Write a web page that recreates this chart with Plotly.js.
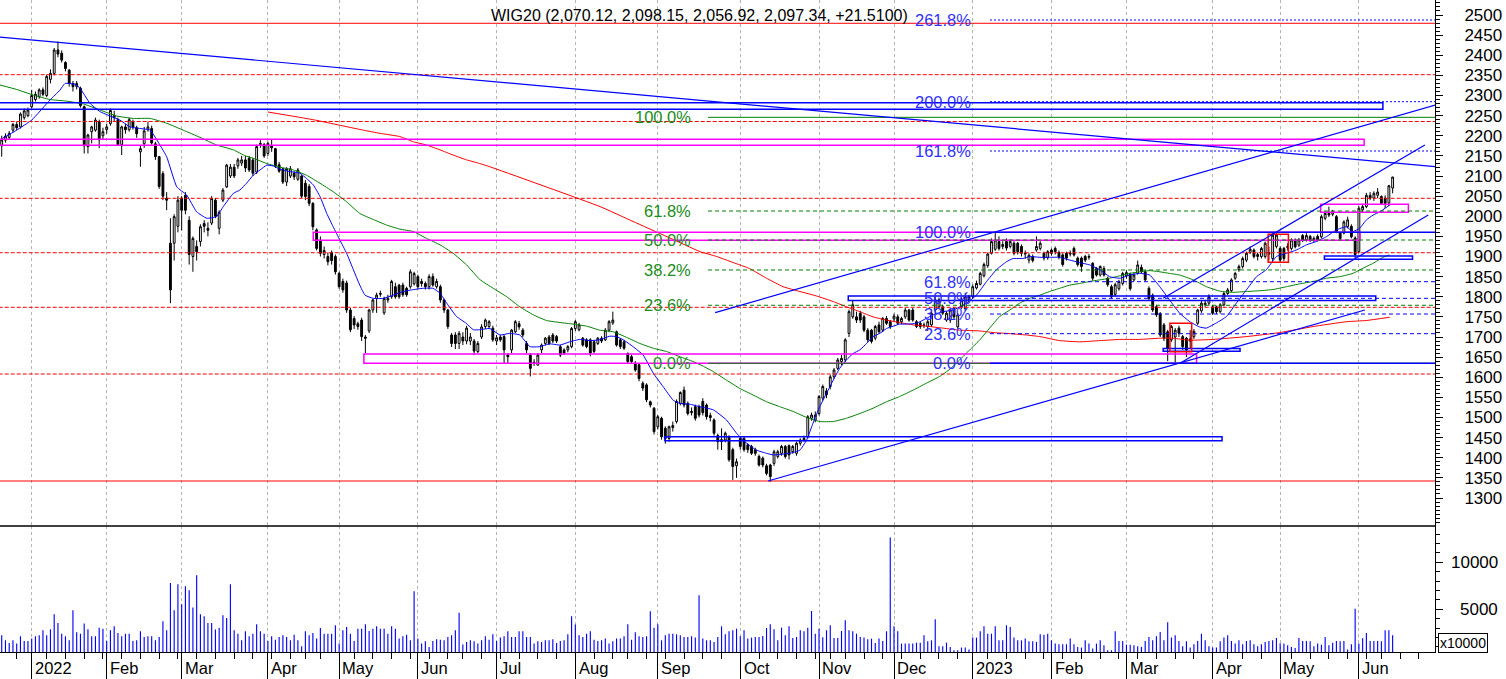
<!DOCTYPE html>
<html><head><meta charset="utf-8">
<script src="https://cdn.plot.ly/plotly-3.0.1.min.js"></script>
<style>html,body{margin:0;padding:0;background:#fff;overflow:hidden}#chart{width:1506px;height:679px}</style>
</head><body><div id="chart"></div>
<script>
const FONT = 'Liberation Sans, Arial, sans-serif';
// ---- trading calendar (categories) ----
const firstDay = '2021-12-20';
const holidays = ['2021-12-24','2021-12-31','2022-01-06','2022-04-15','2022-04-18','2022-05-03','2022-06-16','2022-08-15','2022-11-01','2022-11-11','2022-12-26','2023-01-06','2023-04-07','2023-04-10','2023-05-01','2023-05-03','2023-06-08'];
const monthLabels = ['2022','Feb','Mar','Apr','May','Jun','Jul','Aug','Sep','Oct','Nov','Dec','2023','Feb','Mar','Apr','May','Jun'];
const priceTicks = [1300,1350,1400,1450,1500,1550,1600,1650,1700,1750,1800,1850,1900,1950,2000,2050,2100,2150,2200,2250,2300,2350,2400,2450,2500];
const volTicks = [5000,10000];
const volTickText = ['5000','10000'];
const seriesName = 'WIG20';

// ---- daily OHLC (Dec 2021 .. Jun 2023) ----
const opens = [
2175,2189,2196,2214,2228,2222,2245,2250,
2272,2290,2297,2314,2300,2340,2355,2413,2405,2382,2363,2330,2322,2318,2272,2173,2210,2214,2235,2200,
2215,2230,2245,2240,2178,2222,2215,2235,2220,2160,2180,2215,2218,2180,2148,2106,2045,1933,1933,1975,
2045,2052,1990,1900,1925,1937,1982,1970,1983,2040,1970,2040,2073,2100,2122,2125,2132,2140,2144,2140,2110,2178,2178,
2156,2175,2168,2128,2118,2085,2100,2107,2092,2100,2082,2074,2032,1966,1941,1905,1900,1910,1900,
1858,1838,1834,1767,1746,1733,1742,1700,1715,1767,1796,1806,1760,1792,1800,1825,1829,1829,1821,1825,1832,
1850,1838,1833,1825,1850,1825,1825,1792,1767,1705,1705,1684,1700,1690,1690,1690,1664,1700,1726,1726,1722,
1690,1700,1701,1655,1668,1713,1733,1717,1684,1655,1635,1630,1668,1684,1700,1705,1701,1676,1668,1668,1676,
1721,1718,1697,1693,1693,1688,1684,1697,1693,1717,1735,1713,1693,1688,1659,1651,1635,1631,1585,1581,1539,1523,
1477,1498,1473,1448,1475,1490,1535,1568,1535,1512,1527,1527,1540,1531,1505,1494,1455,1440,1444,1452,1420,1380,
1448,1448,1432,1428,1420,1403,1399,1380,1382,1386,1403,1411,1428,1430,1415,1411,1436,1444,1452,1498,1494,
1510,1548,1566,1577,1601,1622,1639,1643,1709,1750,1750,1759,1750,1717,1717,1697,1730,1717,1746,1738,
1745,1750,1738,1750,1767,1767,1738,1734,1730,1726,1730,1767,1775,1775,1742,1742,1770,1725,1775,1770,1800,
1800,1822,1831,1852,1877,1908,1918,1937,1925,1937,1925,1933,1933,1925,1906,1891,1900,1916,1920,1908,1897,
1916,1920,1910,1904,1908,1906,1920,1896,1896,1900,1898,1883,1870,1854,1870,1846,1825,1806,1820,1833,
1852,1856,1842,1858,1873,1862,1821,1804,1775,1758,1730,1713,1693,1700,1722,1701,1697,1690,1701,1734,1765,1780,1784,
1775,1775,1763,1780,1808,1815,1846,1867,1875,1891,1910,1916,1900,1900,1900,1906,1895,1925,
1920,1920,1922,1920,1941,1928,1952,1941,1950,1941,1950,1949,1995,2007,2005,1999,1958,1958,1974,1975,1946,
1912,2016,2024,2052,2045,2052,2049,2045,2033,2070.12];
const highs = [
2200,2206,2212,2232,2235,2258,2268,2270,
2314,2310,2318,2320,2352,2365,2418,2434,2412,2385,2366,2336,2336,2322,2275,2205,2225,2245,2240,2220,
2230,2268,2262,2245,2225,2230,2245,2240,2225,2175,2222,2235,2225,2185,2150,2112,2060,1995,2005,2050,
2050,2060,2000,1950,1940,1980,1990,1985,2050,2045,2015,2070,2130,2130,2130,2145,2150,2150,2150,2145,2178,2189,2182,
2186,2190,2170,2135,2120,2122,2125,2112,2120,2102,2090,2080,2035,1970,1950,1925,1910,1915,1905,
1862,1845,1840,1772,1752,1738,1748,1705,1770,1795,1810,1815,1800,1805,1842,1835,1832,1835,1825,1868,1862,
1855,1845,1838,1856,1858,1845,1830,1795,1770,1710,1712,1715,1712,1728,1710,1695,1690,1732,1746,1742,1728,
1705,1705,1705,1660,1720,1742,1740,1722,1690,1660,1645,1660,1684,1700,1705,1710,1705,1680,1672,1680,1725,
1742,1735,1700,1697,1697,1692,1700,1702,1722,1742,1763,1716,1697,1692,1662,1656,1640,1635,1590,1585,1542,1526,
1506,1502,1478,1480,1490,1545,1565,1577,1540,1525,1532,1532,1548,1535,1512,1498,1460,1473,1465,1456,1425,1398,
1452,1452,1436,1432,1425,1408,1403,1385,1385,1420,1420,1432,1432,1433,1432,1440,1448,1455,1506,1512,1515,
1556,1582,1573,1606,1623,1648,1655,1697,1768,1792,1763,1765,1755,1722,1720,1730,1738,1750,1752,1742,
1758,1756,1750,1772,1770,1772,1742,1738,1736,1742,1762,1800,1798,1780,1764,1770,1775,1760,1798,1810,1805,
1830,1840,1862,1885,1910,1945,1961,1950,1938,1945,1942,1938,1936,1930,1915,1908,1905,1950,1938,1912,1916,
1920,1925,1915,1908,1912,1915,1925,1900,1900,1904,1906,1886,1874,1878,1876,1850,1830,1835,1842,1862,
1866,1860,1860,1890,1880,1866,1826,1808,1780,1762,1735,1718,1730,1722,1728,1705,1700,1717,1720,1770,1790,1792,1806,
1780,1778,1784,1812,1822,1846,1862,1880,1900,1912,1925,1920,1910,1924,1937,1925,1958,1958,
1925,1924,1933,1945,1945,1946,1956,1958,1954,1950,1955,2004,2012,2024,2016,2003,1962,1990,1999,1980,1950,
2025,2030,2058,2060,2062,2070,2052,2052,2078,2098.15];
const lows = [
2148,2183,2190,2208,2214,2218,2240,2246,
2268,2285,2292,2298,2296,2330,2350,2395,2382,2360,2322,2310,2315,2270,2156,2156,2181,2210,2169,2190,
2205,2225,2235,2175,2152,2205,2210,2215,2195,2123,2170,2210,2178,2140,2068,2040,2015,1784,1890,1960,
1965,2005,1880,1862,1890,1925,1960,1950,1978,1995,1955,2035,2070,2095,2095,2118,2125,2110,2110,2100,2105,2170,2145,
2150,2160,2120,2108,2080,2075,2095,2090,2088,2045,2040,2025,1965,1915,1900,1895,1878,1880,1855,
1820,1810,1760,1712,1720,1718,1690,1660,1710,1760,1760,1800,1755,1785,1795,1795,1795,1800,1800,1820,1828,
1820,1825,1818,1818,1825,1820,1785,1760,1720,1675,1670,1670,1680,1682,1680,1655,1660,1695,1720,1720,1688,
1680,1688,1635,1635,1660,1710,1718,1700,1660,1602,1628,1630,1660,1680,1680,1685,1685,1650,1655,1662,1672,
1715,1714,1676,1672,1652,1660,1680,1685,1690,1712,1730,1676,1670,1668,1635,1634,1614,1590,1566,1538,1525,1458,
1470,1445,1435,1440,1465,1485,1530,1525,1505,1505,1492,1500,1505,1495,1490,1455,1420,1419,1438,1390,1345,1350,
1420,1415,1412,1407,1405,1378,1376,1356,1340,1380,1398,1405,1398,1396,1410,1405,1430,1440,1448,1492,1488,
1505,1542,1548,1570,1596,1618,1630,1638,1700,1745,1735,1735,1712,1688,1684,1692,1708,1712,1730,1720,
1738,1730,1732,1745,1738,1738,1722,1720,1722,1715,1725,1755,1770,1755,1738,1735,1745,1720,1770,1765,1785,
1795,1818,1828,1848,1872,1905,1914,1915,1918,1915,1920,1903,1905,1900,1895,1883,1885,1912,1915,1890,1892,
1902,1905,1893,1875,1890,1900,1900,1875,1862,1886,1892,1840,1850,1850,1850,1825,1795,1800,1815,1828,
1845,1815,1838,1855,1858,1838,1790,1762,1750,1700,1690,1640,1688,1636,1700,1668,1650,1672,1695,1730,1760,1775,1778,
1755,1757,1758,1776,1804,1812,1842,1862,1870,1886,1906,1895,1890,1895,1895,1890,1888,1920,
1885,1888,1915,1915,1920,1924,1936,1937,1936,1936,1938,1945,1990,1998,2000,1958,1940,1955,1970,1945,1895,
1908,2010,2020,2040,2038,2045,2030,2020,2025,2056.92];
const closes = [
2190,2199,2206,2228,2220,2254,2262,2264,
2300,2303,2314,2303,2347,2355,2413,2403,2388,2367,2330,2322,2330,2275,2175,2202,2222,2239,2190,2210,
2222,2263,2250,2178,2222,2215,2240,2222,2205,2168,2212,2222,2182,2148,2074,2050,2040,1817,1999,2040,
2015,2015,1905,1945,1912,1974,1975,1965,2044,2000,2010,2065,2127,2122,2100,2140,2140,2120,2115,2107,2173,2181,2150,
2181,2170,2125,2112,2085,2118,2118,2098,2115,2050,2049,2032,1974,1920,1908,1915,1887,1890,1862,
1825,1817,1767,1718,1730,1726,1701,1697,1767,1792,1804,1808,1796,1796,1838,1800,1800,1805,1805,1862,1858,
1825,1833,1825,1850,1829,1838,1792,1767,1726,1684,1684,1709,1690,1722,1700,1665,1684,1725,1742,1738,1693,
1698,1693,1668,1651,1717,1738,1725,1705,1668,1622,1637,1655,1680,1697,1684,1690,1690,1655,1660,1676,1721,
1738,1730,1680,1676,1660,1664,1697,1690,1717,1738,1742,1680,1676,1672,1639,1639,1618,1597,1573,1544,1531,1465,
1502,1452,1448,1477,1480,1540,1562,1531,1510,1515,1498,1506,1512,1502,1500,1461,1440,1445,1461,1395,1378,1390,
1428,1420,1420,1411,1411,1382,1382,1361,1353,1415,1415,1428,1403,1407,1428,1436,1444,1448,1502,1506,1506,
1552,1577,1557,1601,1618,1643,1647,1693,1763,1780,1742,1742,1717,1693,1689,1726,1713,1746,1734,1726,
1752,1734,1746,1767,1742,1742,1726,1726,1729,1738,1759,1792,1792,1759,1759,1767,1750,1755,1792,1800,1792,
1825,1833,1858,1880,1906,1937,1941,1920,1930,1921,1937,1908,1912,1908,1908,1903,1890,1925,1933,1896,1912,
1908,1912,1898,1880,1896,1908,1904,1880,1875,1891,1900,1846,1854,1875,1854,1830,1800,1830,1838,1858,
1860,1820,1854,1879,1862,1842,1796,1767,1755,1705,1697,1672,1726,1717,1709,1676,1668,1695,1714,1767,1784,1784,1800,
1759,1763,1780,1808,1817,1842,1858,1875,1895,1908,1918,1900,1905,1920,1933,1910,1953,1953,
1891,1895,1925,1941,1924,1941,1941,1952,1941,1945,1941,1999,2007,2003,2011,1962,1945,1986,1991,1949,1905,
2020,2024,2052,2045,2057,2060,2032,2032,2075.83,2097.34];
// volume, units of 10000
const volumes = [
2230,1700,1420,1700,1350,2130,1630,1630,1880,2130,2230,2770,2230,2870,4470,3550,2410,2130,1700,4890,
2550,2410,3480,2870,2130,2130,3050,2940,1630,2770,3190,2480,2130,2410,2410,1630,1700,2660,2060,2130,
2130,1700,2060,3730,2770,7800,4890,7660,5530,7450,7020,5180,8620,4470,4260,3550,3550,2840,3050,4360,
4080,7660,2770,2410,1700,2660,2130,2410,3410,2660,2410,1630,2130,1770,2060,2230,2060,1700,2300,1700,
1070,2660,2230,2480,1880,3020,2410,2410,2410,3300,1350,2770,3120,2410,1630,2940,2940,3410,2700,2940,
3190,2940,2940,2410,3190,2940,1880,2130,2300,1700,6920,1880,1350,1600,1000,1630,1810,1770,1700,2060,
2230,2770,4640,1250,1530,1700,1600,1350,1700,2130,1770,2340,1630,1990,2130,2660,2060,2060,2660,2660,
2060,2060,1350,1600,1530,1700,1700,1810,1420,1630,1700,2340,4260,3370,2230,2060,2410,2660,1770,1630,
1700,1880,1350,1600,1880,1880,2130,3410,1770,2550,2130,2060,2130,4790,3050,3410,1700,2230,2410,2410,
2340,2230,2060,2060,2130,1990,6490,1880,1700,1700,1530,2060,3190,2340,2660,2770,2940,2130,2770,1880,
1990,2060,2060,2160,3020,3410,2870,1700,3050,2230,3190,1950,2060,2770,2660,3050,4820,2410,2940,2020,
2770,3300,1950,1950,2700,3830,2770,2660,2410,2060,1990,1810,1880,1420,1880,1630,2660,12630,3190,2660,
1350,1350,1350,1350,1450,1450,2230,1600,1700,3940,1070,1070,1450,1000,640,640,930,930,720,1990,
1990,2660,3190,2410,2410,3190,1700,1700,3300,3120,1990,1700,1700,1880,1600,1600,1530,2340,2300,2410,
1700,1350,1280,1280,1280,1880,1280,1000,930,1700,1350,820,1350,1700,1170,640,640,2660,1630,1630,
1240,1240,1170,1070,1000,1630,2060,1700,2130,2590,1700,3620,1990,2230,1630,1070,1600,930,1280,1630,
2410,1700,1070,930,930,1600,1990,2230,1630,1350,1700,1280,1630,1700,1280,1070,1280,1530,1630,1700,
1950,1400,1350,1170,1000,890,1950,1630,1630,1600,1070,1350,1240,2060,1170,1450,1630,1600,1630,720,
1280,5070,1350,1920,2480,1630,1630,1630,1600,2770,2770,2230];

// ---- moving averages: [dayIndex, value] ----
const maBlue = [[-8.46,2190],[-4,2214],[0,2239],[4.9,2289],[7.5,2313],[8.9,2330],[11.5,2328],[12.9,2318],[15.5,2281],[18.2,2260],[20.9,2249],[23.5,2239],[26.2,2222],[28.9,2218],[31.6,2214],[34.2,2177],[36,2148],[38.7,2073],[41.3,2053],[44,2011],[46.7,1995],[49.3,1999],[51.1,2024],[53.8,2057],[55.5,2065],[57.3,2082],[59.1,2102],[60.9,2115],[62.7,2127],[64.4,2125],[66.2,2117],[68.9,2111],[71.5,2107],[73.3,2094],[75.1,2078],[76.9,2049],[78.7,2007],[80.4,1974],[82.2,1941],[84,1908],[85.8,1867],[87.5,1829],[88.9,1804],[91.1,1796],[93.8,1796],[96.4,1804],[99.1,1813],[101.3,1817],[104.4,1821],[107,1821],[108.9,1809],[110.7,1784],[113.3,1751],[115.9,1734],[117.8,1718],[119.5,1718],[122.2,1721],[124.9,1705],[127.5,1709],[130.2,1705],[132.9,1676],[135.5,1676],[138.2,1683],[140.9,1680],[143.5,1688],[146.2,1694],[148.9,1691],[151.5,1693],[154.2,1702],[156,1701],[157.8,1693],[160.4,1676],[163.1,1655],[165.8,1610],[168.4,1577],[171.1,1543],[172.9,1535],[175.5,1533],[178.2,1527],[181.8,1519],[185.3,1494],[188,1461],[190.7,1436],[193.3,1419],[196,1411],[197.8,1407],[200.4,1409],[203.1,1413],[204.9,1419],[206.7,1444],[208.4,1486],[210.2,1527],[212,1560],[213.8,1593],[215.5,1622],[217.3,1643],[219.1,1659],[220.9,1668],[222.7,1684],[224.4,1701],[226.2,1709],[228,1721],[229.8,1727],[231.5,1732],[233.3,1732],[236,1734],[238.6,1746],[240.4,1755],[243.1,1763],[245.8,1767],[249.3,1784],[252,1804],[254.7,1838],[257.3,1867],[260,1887],[261.8,1895],[264.4,1895],[266.2,1900],[268.9,1898],[271.5,1898],[274.2,1898],[276.9,1891],[279.5,1885],[282.2,1879],[284.9,1867],[287.5,1850],[290.2,1846],[292.9,1854],[295.5,1858],[298.2,1854],[300.9,1825],[303.5,1792],[306.2,1759],[308.9,1738],[311.5,1725],[313.3,1722],[316,1735],[318.7,1751],[321.3,1784],[324,1817],[326.7,1850],[329.3,1867],[332,1900],[334.7,1908],[337.3,1916],[340,1929],[342.6,1937],[345.3,1949],[348,1966],[350.6,1974],[352.4,1962],[354.2,1970],[356,1991],[357.8,2003],[359.6,2011],[362.2,2028]];
const maGreen = [[-8.46,2326],[-4,2315],[0.44,2301],[4.88,2290],[9.33,2286],[13.78,2279],[18.2,2264],[22.7,2249],[27.1,2243],[31.6,2243],[36,2231],[40.4,2214],[44.9,2196],[49.3,2177],[53.8,2165],[57,2150],[59.1,2144],[62.7,2131],[66.2,2122],[69.8,2115],[73.3,2102],[76.9,2082],[80.4,2061],[84,2036],[87.5,2007],[91.1,1992],[94.7,1978],[98.2,1968],[101.8,1962],[105.3,1945],[108.9,1929],[112.4,1908],[116,1879],[119.5,1843],[123.1,1821],[126.7,1800],[130.2,1775],[133.8,1755],[137.3,1741],[140.9,1736],[144.4,1732],[148,1727],[151.5,1717],[155.1,1713],[158.7,1699],[162.2,1684],[165.8,1672],[169.3,1664],[172.9,1651],[176.4,1639],[179,1628],[181.8,1614],[185.3,1593],[188.9,1572],[192.4,1556],[196,1539],[199.5,1527],[203.1,1515],[206.7,1500],[210.2,1490],[213.8,1490],[217.3,1498],[220.9,1510],[224.4,1523],[228,1539],[231.5,1552],[235.1,1568],[238.6,1585],[242.2,1602],[244.9,1620],[247.5,1643],[250.2,1668],[252.9,1693],[255.5,1722],[258.2,1751],[260.9,1767],[263.5,1784],[266.2,1796],[268.9,1804],[271.5,1813],[274.2,1821],[276.9,1829],[279.5,1833],[282.2,1838],[284.9,1842],[287.5,1846],[290.2,1852],[292.9,1858],[295.5,1862],[298.2,1865],[300.9,1862],[303.5,1858],[306.2,1854],[309.8,1842],[313.3,1825],[316.9,1814],[320.4,1811],[324,1813],[327.6,1815],[331.1,1818],[334.7,1825],[338.2,1832],[341.8,1838],[345.3,1846],[348.9,1850],[352.4,1858],[355.1,1871],[357.8,1883],[360.4,1898],[362.2,1904]];
const maRed = [[63,2259],[75,2240],[88.4,2214],[92.9,2206],[98.2,2198],[101.8,2185],[105.3,2177],[108.9,2165],[112.4,2152],[116,2140],[119.5,2131],[122.2,2123],[151.6,2024],[160.4,1987],[169.5,1949],[178.3,1912],[182.7,1900],[187.1,1885],[191.5,1870],[196,1846],[200.4,1825],[204.9,1813],[209.3,1802],[213.8,1788],[217.3,1775],[220.9,1763],[224.4,1750],[228,1742],[231.5,1736],[235.1,1730],[238.6,1727],[242.2,1723],[247.5,1717],[252.9,1715],[256.4,1711],[260,1709],[265.3,1705],[268.9,1701],[274.2,1691],[279.5,1688],[284.9,1691],[290.2,1694],[295.5,1694],[300.9,1697],[304.4,1697],[308.9,1692],[315.1,1694],[324,1701],[332.9,1711],[341.8,1726],[350.7,1738],[356,1741],[362.2,1749]];

// ---- drawn analysis objects (day index / price) ----
const redDashLevels = [2351.7,2235.4,2044.6,1909.4,1773.8,1608];
const redSolidLevels = [2479.4,1342.2];
const greenFibLabels = ['100.0%','61.8%','50.0%','38.2%','23.6%','0.0%'];
const greenFibLevels = [2245.8,2013.0,1941.0,1866.5,1778.8,1634.7];
const greenFibStart = 180.4;
const greenLabelAt = 176.4;
const blueFibLabels = ['261.8%','200.0%','161.8%','100.0%','61.8%','50.0%','38.2%','23.6%','0.0%'];
const blueFibLevels = [2487.6,2284.6,2162.1,1960.1,1837.4,1796.1,1757.1,1708.2,1634.7];
const blueFibStarts = [255.6,255.6,255.6,251.6,255.6,255.6,255.6,255.6,255.6];
const blueLabelAt = 251.1;
const boxes = [
 ['#0000ff',-12,360.4,2265.7,2282.1],
 ['#ff00ff',-12,355.4,2176.3,2191.2],
 ['#ff00ff',75.1,354.3,1940.3,1960.1],
 ['#ff00ff',88.6,310.7,1634.7,1657.8],
 ['#0000ff',217.8,358.5,1790.7,1801.9],
 ['#0000ff',168.9,317.5,1442.4,1452.3],
 ['#0000ff',301.8,322.3,1664.4,1671.4],
 ['#ff0000',303.6,309.4,1663.4,1734.0],
 ['#ff0000',329.8,335.2,1885.6,1955.2],
 ['#ff00ff',343.8,367.2,2009.8,2029.7],
 ['#0000ff',344.8,368.3,1893.0,1901.2]];
const trendLines = [
 [-12,2448.2,380,2118.5],
 [182.3,1760.4,380,2291.6],
 [196.4,1342.2,355.6,1767.1],
 [306.3,1634.7,372.5,2003.1],
 [301.8,1796.1,371.6,2177.0]];

// ---- build calendar ----
const hol = new Set(holidays);
const days = [];
{
  const d = new Date(firstDay + 'T00:00:00Z');
  while (days.length < 384) {
    const wd = d.getUTCDay();
    const s = d.toISOString().slice(0, 10);
    if (wd !== 0 && wd !== 6 && !hol.has(s)) days.push(s);
    d.setUTCDate(d.getUTCDate() + 1);
  }
}
const OFFSET = 8;
const monthStarts = [], weekStarts = [];
for (let k = 1; k < days.length; k++) {
  const a = new Date(days[k - 1] + 'T00:00:00Z'), b = new Date(days[k] + 'T00:00:00Z');
  const isMonth = a.getUTCMonth() !== b.getUTCMonth();
  if (isMonth) monthStarts.push(k - OFFSET);
  else if (b.getUTCDay() < a.getUTCDay()) weekStarts.push(k - OFFSET);
}
const xs = opens.map((_, k) => k - OFFSET);
const mStarts = monthStarts.slice(0, monthLabels.length);

// ---- traces ----
const traces = [
  {type:'bar', x:xs, y:volumes, yaxis:'y2', width:0.3, marker:{color:'#0000ff', line:{width:0}}, hoverinfo:'skip'},
  {type:'scatter', mode:'lines', x:maRed.map(p=>p[0]), y:maRed.map(p=>p[1]), line:{color:'#ff0000', width:1, shape:'spline', smoothing:0.4}, hoverinfo:'skip'},
  {type:'scatter', mode:'lines', x:maGreen.map(p=>p[0]), y:maGreen.map(p=>p[1]), line:{color:'#008000', width:1, shape:'spline', smoothing:0.4}, hoverinfo:'skip'},
  {type:'candlestick', x:xs, open:opens, high:highs, low:lows, close:closes,
   increasing:{line:{color:'#000', width:1}, fillcolor:'#ffffff'},
   decreasing:{line:{color:'#000', width:1}, fillcolor:'#000000'},
   whiskerwidth:0, hoverinfo:'skip'},
  {type:'scatter', mode:'lines', x:maBlue.map(p=>p[0]), y:maBlue.map(p=>p[1]), line:{color:'#0000ff', width:1, shape:'spline', smoothing:0.4}, hoverinfo:'skip'}
];

// ---- shapes ----
const shapes = [];
const hline = (x0, x1, y, color, dash, width) => ({type:'line', xref:'x', yref:'y', x0, x1, y0:y, y1:y, line:{color, width, dash}, layer:'above'});
redDashLevels.forEach(v => shapes.push(hline(-12, 380, v, '#ff0000', '4px,2px', 1)));
redSolidLevels.forEach(v => shapes.push(hline(-12, 380, v, '#ff0000', 'solid', 1)));
boxes.forEach(b => shapes.push({type:'rect', xref:'x', yref:'y', x0:b[1], x1:b[2], y0:b[3], y1:b[4], line:{color:b[0], width:1.5}, fillcolor:'rgba(0,0,0,0)', layer:'above'}));
greenFibLevels.forEach((v, k) => {
  const solid = greenFibLabels[k] === '100.0%' || greenFibLabels[k] === '0.0%';
  shapes.push(hline(greenFibStart, 380, v, '#008000', solid ? 'solid' : '4px,3px', 1));
});
blueFibLevels.forEach((v, k) => {
  const lab = blueFibLabels[k];
  const solid = lab === '100.0%' || lab === '0.0%';
  const dotted = k < 3;
  shapes.push(hline(blueFibStarts[k], 380, v, '#0000ff', solid ? 'solid' : (dotted ? '2px,2px' : '4px,3px'), solid ? 1.5 : 1));
});
trendLines.forEach(t => shapes.push({type:'line', xref:'x', yref:'y', x0:t[0], y0:t[1], x1:t[2], y1:t[3], line:{color:'#0000ff', width:1.2}, layer:'above'}));
// separator between panes
shapes.push({type:'line', xref:'paper', yref:'paper', x0:0, x1:1, y0:0.19325, y1:0.19325, line:{color:'#000', width:1.5}, layer:'above'});

// ---- annotations ----
const ann = [];
const fmt = v => v.toLocaleString('en-US', {minimumFractionDigits:2, maximumFractionDigits:2});
const n = closes.length;
const chg = closes[n-1] - closes[n-2];
ann.push({xref:'paper', yref:'paper', x:489/1435, y:1 - 16/652, xanchor:'left', yanchor:'middle', showarrow:false,
  text: seriesName + ' (' + [opens[n-1], highs[n-1], lows[n-1], closes[n-1]].map(fmt).join(', ') + ', ' + (chg >= 0 ? '+' : '') + chg.toFixed(4) + ')',
  font:{family:FONT, size:16, color:'#000'}});
greenFibLabels.forEach((t, k) => ann.push({xref:'x', yref:'y', x:greenLabelAt, y:greenFibLevels[k], xanchor:'right', yanchor:'middle', showarrow:false, text:t, font:{family:FONT, size:16.5, color:'#1a8c1a'}}));
blueFibLabels.forEach((t, k) => ann.push({xref:'x', yref:'y', x:blueLabelAt, y:blueFibLevels[k], xanchor:'right', yanchor:'middle', showarrow:false, text:t, font:{family:FONT, size:16.5, color:'#3030ff'}}));
monthLabels.forEach((t, k) => ann.push({xref:'x', yref:'paper', x:mStarts[k] + 0.35, y:-16/652, xanchor:'left', yanchor:'middle', showarrow:false, text:t, font:{family:FONT, size:16.5, color:'#000'}}));
volTicks.forEach((v, k) => ann.push({xref:'paper', yref:'y2', x:1500/1435, y:v, xanchor:'right', yanchor:'middle', showarrow:false, text:volTickText[k], font:{family:FONT, size:17, color:'#000'}}));
ann.push({xref:'paper', yref:'paper', x:1438/1435, y:9/652, xanchor:'left', yanchor:'middle', showarrow:false, text:'x10000', bordercolor:'#000', borderwidth:1, borderpad:1, bgcolor:'#fff', font:{family:FONT, size:14, color:'#000'}});

const layout = {
  width:1506, height:679,
  margin:{l:0, r:71, t:0, b:27, pad:0},
  paper_bgcolor:'#ffffff', plot_bgcolor:'#ffffff',
  showlegend:false, hovermode:false, dragmode:false,
  boxgap:0.3,
  font:{family:FONT, size:17, color:'#000'},
  xaxis:{type:'linear', range:[-8.456, 374.3], anchor:'y2', showline:true, linecolor:'#000', linewidth:1,
    tickmode:'array', tickvals:mStarts, ticks:'outside', ticklen:27, tickcolor:'#000', tickwidth:1, showticklabels:false,
    showgrid:true, gridcolor:'#b4b4b4', griddash:'3px,3px', gridwidth:1, zeroline:false,
    minor:{tickmode:'array', tickvals:weekStarts, ticks:'outside', ticklen:6, tickcolor:'#000', tickwidth:1, showgrid:false},
    rangeslider:{visible:false}, fixedrange:true},
  yaxis:{domain:[0.19325, 1], range:[1230.43, 2537.27], side:'right', anchor:'x', showline:true, linecolor:'#000', linewidth:1,
    tickmode:'array', tickvals:priceTicks, ticktext:priceTicks.map(String), ticks:'outside', ticklen:7, tickcolor:'#000',
    showgrid:false, zeroline:false, tickfont:{family:FONT, size:17, color:'#000'}, ticklabelstandoff:18,
    minor:{dtick:10, tick0:0, ticks:'outside', ticklen:4, tickcolor:'#000', showgrid:false}, fixedrange:true},
  yaxis2:{domain:[0, 0.19325], range:[457, 13862], side:'right', anchor:'x', showline:true, linecolor:'#000', linewidth:1,
    tickmode:'array', tickvals:volTicks, ticks:'outside', ticklen:7, tickcolor:'#000', showticklabels:false,
    showgrid:false, zeroline:false, minor:{dtick:1000, tick0:0, ticks:'outside', ticklen:4, tickcolor:'#000', showgrid:false}, fixedrange:true},
  shapes:shapes,
  annotations:ann
};
Plotly.newPlot('chart', traces, layout, {displayModeBar:false, staticPlot:true});
</script>
</body></html>
